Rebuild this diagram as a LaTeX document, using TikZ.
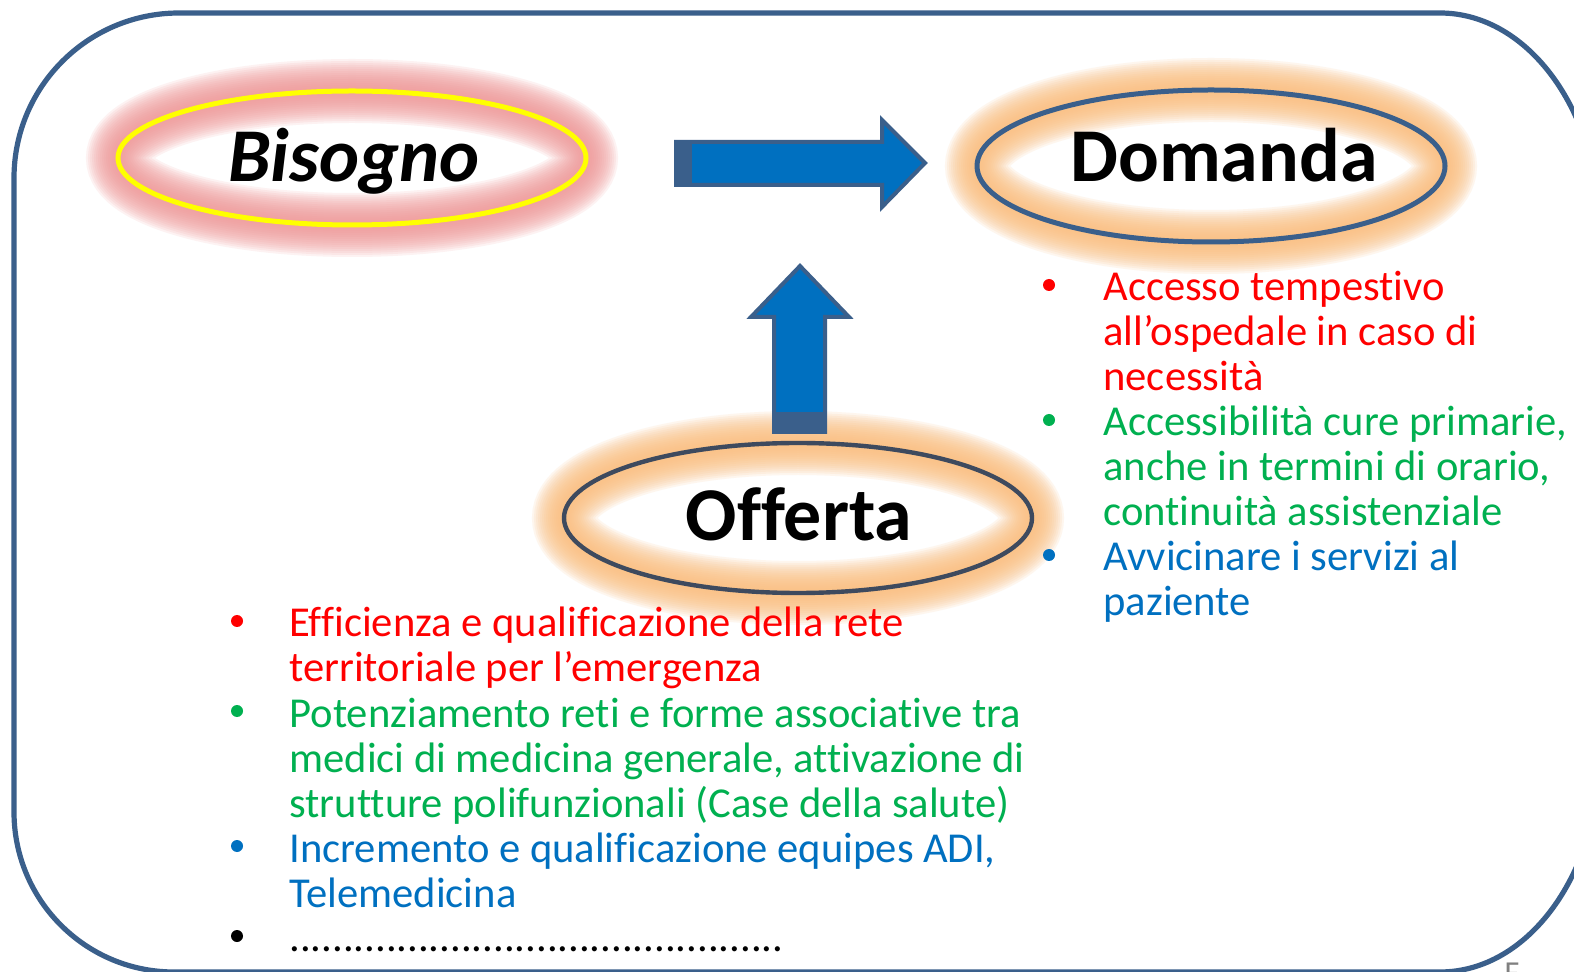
\documentclass[tikz,border=0pt]{standalone}
\usepackage{fontspec}
\setmainfont{Carlito}[Ligatures=NoCommon]
\usetikzlibrary{shapes.geometric}
\definecolor{frameblue}{RGB}{58,95,139}
\definecolor{arrowblue}{RGB}{0,112,192}
\definecolor{txtred}{RGB}{255,0,0}
\definecolor{txtgreen}{RGB}{0,176,80}
\definecolor{txtblue}{RGB}{0,112,192}
\definecolor{glowpink}{RGB}{240,150,150}
\definecolor{gloworange}{RGB}{250,190,125}
\definecolor{offline}{RGB}{62,74,94}
\definecolor{markyellow}{RGB}{255,255,0}
\newcommand{\glowell}[5]{%
  \foreach \w in {64,60,...,4}{%
    \pgfmathsetmacro\lw{\w*0.5}%
    \draw[#4, line width=\lw pt, opacity=#5] #1 ellipse[x radius=#2, y radius=#3];
  }}
\begin{document}
\begin{tikzpicture}[x=0.5pt,y=0.5pt,
  frame/.style={draw=frameblue, line width=2.6pt},
  oval/.style={ellipse, inner sep=0pt, outer sep=0pt},
  bigword/.style={anchor=base, font=\fontsize{38}{44}\selectfont\bfseries},
  item/.style={anchor=base west, inner sep=0pt, font=\fontsize{21.3}{22.5}\selectfont},
  bul/.style={circle, inner sep=0pt, minimum size=6pt},
  blockarrow/.style={fill=arrowblue, draw=frameblue, line width=2pt, line join=miter}]
\useasboundingbox (0,0) rectangle (1574,-972);
\clip (0,0) rectangle (1574,-972);
\fill[white] (0,0) rectangle (1574,-972);

% glows
\glowell{(352,-158)}{234}{67}{glowpink}{0.12}
\glowell{(1211,-166)}{234}{76}{gloworange}{0.13}
\glowell{(798,-518)}{234}{75}{gloworange}{0.13}

% outer frame
\draw[frame] (14,-178) arc[start angle=180, end angle=90, radius=165]
  -- (1440,-13) arc[start angle=90, end angle=0, x radius=160, y radius=220]
  -- (1600,-752) arc[start angle=0, end angle=-90, x radius=160, y radius=220]
  -- (174,-972) arc[start angle=270, end angle=180, radius=160] -- cycle;

% ellipses
\node[oval, draw=markyellow, line width=2.5pt, minimum width=234pt, minimum height=67pt] at (352,-158) (ebis) {};
\node[oval, draw=frameblue, line width=2.5pt, minimum width=234pt, minimum height=76pt] at (1211,-166) (edom) {};
\node[oval, draw=offline, line width=2.2pt, minimum width=234pt, minimum height=75pt] at (798,-518) (eoff) {};

% words
\node[bigword, font=\fontsize{38}{44}\selectfont\bfseries\itshape] (bis) at (354,-182) {Bisogno};
\node[bigword] (dom) at (1224,-182) {Domanda};
\node[bigword] (off) at (799,-541) {Offerta};

% arrows
\draw[blockarrow] (676,-142) -- (882,-142) -- (882,-120) -- (925,-163) -- (882,-207) -- (882,-185) -- (676,-185) -- cycle;
\fill[frameblue] (676,-142) rectangle (692,-185);
\draw[blockarrow] (800,-266) -- (849,-317) -- (825,-317) -- (825,-432) -- (774,-432) -- (774,-317) -- (751,-317) -- cycle;
\fill[frameblue] (774,-412) rectangle (825,-432);

% right list
\node[bul, fill=txtred] (rb1) at (1049,-285) {};
\node[item, text=txtred] (r1) at (1103,-301) {Accesso tempestivo};
\node[item, text=txtred] (r2) at (1103,-346) {all’ospedale in caso di};
\node[item, text=txtred] (r3) at (1103,-391) {necessità};
\node[bul, fill=txtgreen] (rb2) at (1049,-420) {};
\node[item, text=txtgreen] (r4) at (1103,-436) {Accessibilità cure primarie,};
\node[item, text=txtgreen] (r5) at (1103,-481) {anche in termini di orario,};
\node[item, text=txtgreen] (r6) at (1103,-526) {continuità assistenziale};
\node[bul, fill=txtblue] (rb3) at (1049,-555) {};
\node[item, text=txtblue] (r7) at (1103,-571) {Avvicinare i servizi al};
\node[item, text=txtblue] (r8) at (1103,-616) {paziente};

% left list
\node[bul, fill=txtred] (lb1) at (237,-621) {};
\node[item, text=txtred] (l1) at (289,-637) {Efficienza e qualificazione della rete};
\node[item, text=txtred] (l2) at (289,-682) {territoriale per l’emergenza};
\node[bul, fill=txtgreen] (lb2) at (237,-711) {};
\node[item, text=txtgreen] (l3) at (289,-727) {Potenziamento reti e forme associative tra};
\node[item, text=txtgreen] (l4) at (289,-772) {medici di medicina generale, attivazione di};
\node[item, text=txtgreen] (l5) at (289,-817) {strutture polifunzionali (Case della salute)};
\node[bul, fill=txtblue] (lb3) at (237,-846) {};
\node[item, text=txtblue] (l6) at (289,-862) {Incremento e qualificazione equipes ADI,};
\node[item, text=txtblue] (l7) at (289,-907) {Telemedicina};
\node[bul, fill=black] (lb4) at (237,-936) {};
\node[item, text=black] (l8) at (289,-951) {..............................................};

% cut-off glyph at the bottom edge
\node[anchor=base, text=gray, font=\fontsize{16}{18}\selectfont] (frag) at (1512,-983) {F};
\end{tikzpicture}
\end{document}
